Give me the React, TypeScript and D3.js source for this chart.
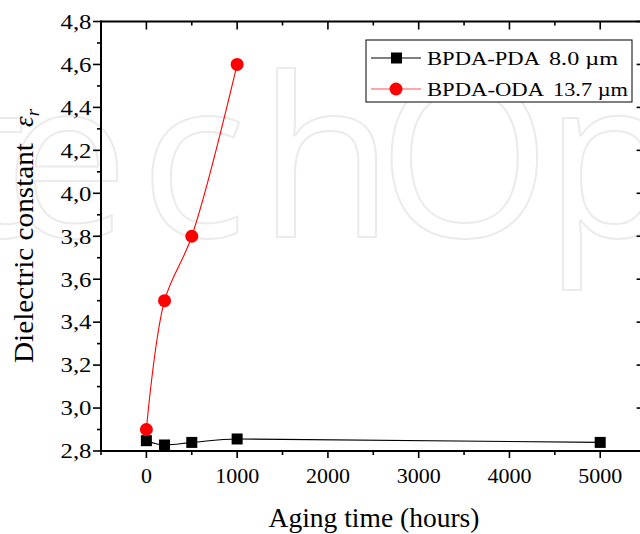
import React from "react";
import * as d3 from "d3";

const pdaHours = [0, 200, 500, 1000, 5000];
const pdaValues = [2.848, 2.828, 2.84, 2.856, 2.84];
const odaHours = [0, 200, 500, 1000];
const odaValues = [2.9, 3.5, 3.8, 4.6];
const xMajorTicks = [0, 1000, 2000, 3000, 4000, 5000];
const xMinorTicks = [-500, 500, 1500, 2500, 3500, 4500, 5500];
const yMajorTicks = [2.8, 3.0, 3.2, 3.4, 3.6, 3.8, 4.0, 4.2, 4.4, 4.6, 4.8];
const yMinorTicks = [2.9, 3.1, 3.3, 3.5, 3.7, 3.9, 4.1, 4.3, 4.5, 4.7];
const legendNames = ["BPDA-PDA", "BPDA-ODA"];
const legendThickness = ["8.0 \u00b5m", "13.7 \u00b5m"];
const watermarkLetters = ["t", "e", "c", "h", "O", "p", "e", "n"];
const watermarkX = [-52, 4, 140, 258, 378, 544, 700, 830];

const W = 640;
const H = 534;
const serif = "'Liberation Serif', 'Times New Roman', serif";

export default function App() {
  const x = d3.scaleLinear().domain([-500, 5500]).range([101, 645.6]);
  const y = d3.scaleLinear().domain([2.8, 4.8]).range([451, 21.5]);
  const blackLine = d3
    .line<[number, number]>()
    .x((d) => x(d[0]))
    .y((d) => y(d[1]))
    .curve(d3.curveMonotoneX);
  const redLine = d3
    .line<[number, number]>()
    .x((d) => x(d[0]))
    .y((d) => y(d[1]))
    .curve(d3.curveCatmullRom.alpha(0.5));
  const pdaPts: [number, number][] = pdaHours.map((h, i) => [h, pdaValues[i]]);
  const odaPts: [number, number][] = odaHours.map((h, i) => [h, odaValues[i]]);
  const x0 = x.range()[0];
  const x1 = x.range()[1];
  const y0 = y.range()[0];
  const y1 = y.range()[1];
  const fmt = (v: number) => v.toFixed(1).replace(".", ",");

  return (
    <svg
      width={W}
      height={H}
      style={{ position: "absolute", left: 0, top: 0, background: "#fff" }}
      fontFamily={serif}
    >
      <rect width={W} height={H} fill="#fff" />
      {/* watermark */}
      <text
        x={watermarkX.join(" ")}
        y={237}
        fontFamily="'Open Sans', Lato, sans-serif"
        fontWeight={500}
        fontSize={222}
        fill="none"
        stroke="#ebebeb"
        strokeWidth={2}
      >
        {watermarkLetters.join("")}
      </text>

      {/* axes frame */}
      <g stroke="#000" strokeWidth={2} fill="none">
        <line x1={x0} x2={x1} y1={y0} y2={y0} />
        <line x1={x0} x2={x1} y1={y1} y2={y1} />
        <line x1={x0} x2={x0} y1={y0 + 1} y2={y1 - 1} />
        <line x1={x1} x2={x1} y1={y0 + 1} y2={y1 - 1} />
      </g>
      {/* ticks */}
      <g stroke="#000" strokeWidth={1.6}>
        {xMajorTicks.map((t) => (
          <g key={"xm" + t}>
            <line x1={x(t)} x2={x(t)} y1={y0} y2={y0 + 7} />
            <line x1={x(t)} x2={x(t)} y1={y1} y2={y1 + 8} />
          </g>
        ))}
        {xMinorTicks.map((t) => (
          <g key={"xn" + t}>
            <line x1={x(t)} x2={x(t)} y1={y0} y2={y0 + 4} />
            <line x1={x(t)} x2={x(t)} y1={y1} y2={y1 + 4} />
          </g>
        ))}
        {yMajorTicks.map((t) => (
          <g key={"ym" + t}>
            <line x1={x0} x2={x0 - 8} y1={y(t)} y2={y(t)} />
            <line x1={x1} x2={x1 - 9} y1={y(t)} y2={y(t)} />
          </g>
        ))}
        {yMinorTicks.map((t) => (
          <g key={"yn" + t}>
            <line x1={x0} x2={x0 - 4} y1={y(t)} y2={y(t)} />
            <line x1={x1} x2={x1 - 4} y1={y(t)} y2={y(t)} />
          </g>
        ))}
      </g>
      {/* tick labels */}
      <g fontSize={22} fill="#000">
        {xMajorTicks.map((t) => (
          <text key={"xl" + t} x={x(t)} y={483} textAnchor="middle">
            {t}
          </text>
        ))}
        {yMajorTicks.map((t) => (
          <text
            key={"yl" + t}
            x={60.5}
            y={y(t) + 7.3}
            textLength={31}
            lengthAdjust="spacingAndGlyphs"
          >
            {fmt(t)}
          </text>
        ))}
      </g>
      {/* axis titles */}
      <text x={374} y={527} textAnchor="middle" fontSize={27.5} fill="#000">
        Aging time (hours)
      </text>
      <g transform="translate(33,0) rotate(-90)" fill="#000" fontSize={27}>
        <text x={-363} y={0} textLength={220} lengthAdjust="spacingAndGlyphs">
          Dielectric constant
        </text>
        <text x={-127} y={0} fontStyle="italic">
          {"\u03b5"}
          <tspan fontSize={19} dy={6}>
            r
          </tspan>
        </text>
      </g>

      {/* series */}
      <path d={blackLine(pdaPts) || ""} fill="none" stroke="#000" strokeWidth={1.1} />
      <path d={redLine(odaPts) || ""} fill="none" stroke="#ff0000" strokeWidth={1.1} />
      {pdaPts.map((p, i) => (
        <rect key={"ps" + i} x={x(p[0]) - 5.5} y={y(p[1]) - 5.5} width={11} height={11} fill="#000" />
      ))}
      {odaPts.map((p, i) => (
        <circle key={"oc" + i} cx={x(p[0])} cy={y(p[1])} r={6.5} fill="#ff0000" />
      ))}

      {/* legend */}
      <rect x={366} y={40} width={266} height={62} fill="#fff" stroke="#000" strokeWidth={1} />
      <line x1={371} x2={421} y1={58} y2={58} stroke="#000" strokeWidth={1.1} />
      <rect x={391} y={52.5} width={11} height={11} fill="#000" />
      <line x1={371} x2={421} y1={89} y2={89} stroke="#ff5050" strokeWidth={1.1} />
      <circle cx={396} cy={89} r={6.5} fill="#ff0000" />
      <g fontSize={19.5} fill="#000">
        <text x={427} y={65} textLength={113} lengthAdjust="spacingAndGlyphs">
          {legendNames[0]}
        </text>
        <text x={549} y={65} textLength={69} lengthAdjust="spacingAndGlyphs">
          {legendThickness[0]}
        </text>
        <text x={427} y={96} textLength={117} lengthAdjust="spacingAndGlyphs">
          {legendNames[1]}
        </text>
        <text x={553} y={96} textLength={75} lengthAdjust="spacingAndGlyphs">
          {legendThickness[1]}
        </text>
      </g>
    </svg>
  );
}
